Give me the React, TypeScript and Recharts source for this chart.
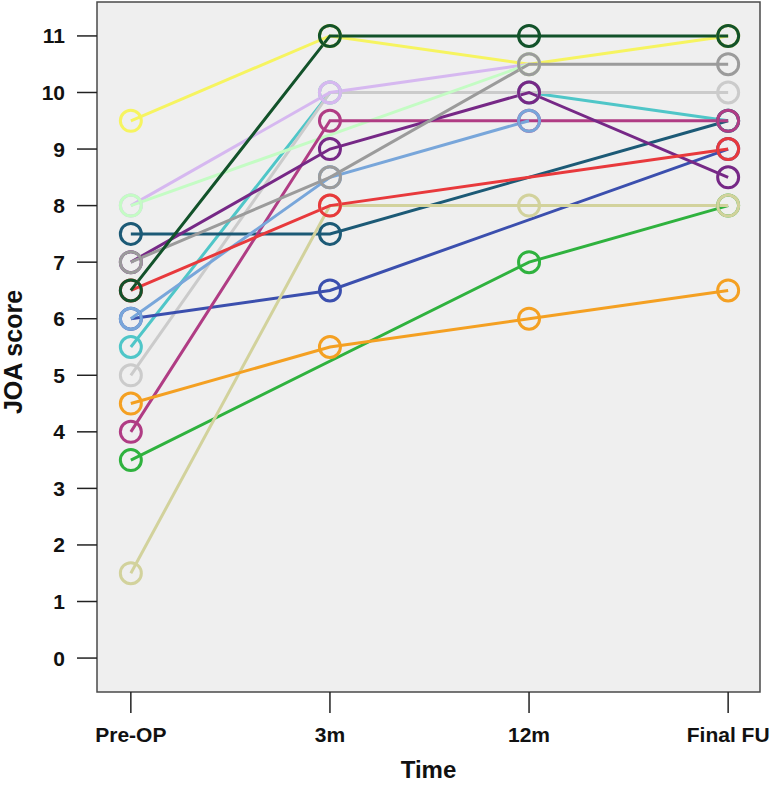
import React from "react";
import { LineChart, Line, XAxis, YAxis, ReferenceArea, Label } from "recharts";

const categories = ["Pre-OP", "3m", "12m", "Final FU"];
const yTicks = [0, 1, 2, 3, 4, 5, 6, 7, 8, 9, 10, 11];

const yellow = [9.5, 11, 10.5, 11];
const cyan = [5.5, 10, 10, 9.5];
const lightGray = [5, 10, 10, 10];
const lavender = [8, 10, 10.5, null];
const lightGreen = [8, null, 10.5, null];
const blue = [6, 6.5, null, 9];
const darkTeal = [7.5, 7.5, null, 9.5];
const magenta = [4, 9.5, 9.5, 9.5];
const lightBlue = [6, 8.5, 9.5, null];
const purple = [7, 9, 10, 8.5];
const gray = [7, 8.5, 10.5, 10.5];
const green = [3.5, null, 7, 8];
const khaki = [1.5, 8, 8, 8];
const red = [6.5, 8, null, 9];
const orange = [4.5, 5.5, 6, 6.5];
const darkGreen = [6.5, 11, 11, 11];

const series = [
  { key: "yellow", values: yellow, color: "#f6f460" },
  { key: "cyan", values: cyan, color: "#4fc6c8" },
  { key: "lightGray", values: lightGray, color: "#cbcbcb" },
  { key: "lavender", values: lavender, color: "#d6b8f0" },
  { key: "lightGreen", values: lightGreen, color: "#c4fcc4" },
  { key: "blue", values: blue, color: "#3b4fae" },
  { key: "darkTeal", values: darkTeal, color: "#1c5a76" },
  { key: "magenta", values: magenta, color: "#b03c84" },
  { key: "lightBlue", values: lightBlue, color: "#78a6da" },
  { key: "purple", values: purple, color: "#762886" },
  { key: "gray", values: gray, color: "#9b9b9b" },
  { key: "green", values: green, color: "#2fb23e" },
  { key: "khaki", values: khaki, color: "#d2d29c" },
  { key: "red", values: red, color: "#e8393c" },
  { key: "orange", values: orange, color: "#f4a022" },
  { key: "darkGreen", values: darkGreen, color: "#12522a" },
];

const data = categories.map((c, i) => {
  const row: any = { x: i, name: c };
  series.forEach((s) => {
    row[s.key] = s.values[i];
  });
  return row;
});

const FONT = "'Liberation Sans', Arial, Helvetica, sans-serif";

const XTick = (props: any) => {
  const { x, y, payload } = props;
  return (
    <text
      x={x}
      y={y + 27}
      textAnchor="middle"
      fontFamily={FONT}
      fontWeight="bold"
      fontSize={21}
      fill="#111"
    >
      {categories[payload.value]}
    </text>
  );
};

const YTick = (props: any) => {
  const { x, y, payload } = props;
  return (
    <text
      x={x - 10}
      y={y + 7.5}
      textAnchor="end"
      fontFamily={FONT}
      fontWeight="bold"
      fontSize={21}
      fill="#111"
    >
      {payload.value}
    </text>
  );
};

const TimeLabel = (props: any) => {
  const vb = props.viewBox;
  return (
    <text
      x={vb.x + vb.width / 2}
      y={vb.y + vb.height - 7}
      textAnchor="middle"
      fontFamily={FONT}
      fontWeight="bold"
      fontSize={24}
      fill="#111"
    >
      Time
    </text>
  );
};

const JoaLabel = (props: any) => {
  const vb = props.viewBox;
  const cx = vb.x + 22;
  const cy = vb.y + vb.height / 2 + 5;
  return (
    <text
      x={cx}
      y={cy}
      transform={`rotate(-90, ${cx}, ${cy})`}
      textAnchor="middle"
      fontFamily={FONT}
      fontWeight="bold"
      fontSize={25}
      fill="#111"
    >
      JOA score
    </text>
  );
};

export default function App() {
  return (
    <div style={{ width: 774, height: 785 }}>
      <style>{`body{margin:0}`}</style>
      <LineChart
        width={774}
        height={785}
        data={data}
        margin={{ top: 2, right: 14, left: 0, bottom: 0 }}
      >
        <XAxis
          dataKey="x"
          type="number"
          domain={[-0.17, 3.16]}
          ticks={[0, 1, 2, 3]}
          allowDataOverflow
          height={93}
          tickSize={21}
          axisLine={false}
          tickLine={{ stroke: "#222", strokeWidth: 1.5 }}
          tick={<XTick />}
        >
          <Label content={<TimeLabel />} />
        </XAxis>
        <YAxis
          type="number"
          domain={[-0.6, 11.6]}
          ticks={yTicks}
          allowDataOverflow
          width={97}
          tickSize={20}
          axisLine={false}
          tickLine={{ stroke: "#222", strokeWidth: 1.5 }}
          tick={<YTick />}
        >
          <Label content={<JoaLabel />} />
        </YAxis>
        <ReferenceArea
          x1={-0.17}
          x2={3.16}
          y1={-0.6}
          y2={11.6}
          fill="#efefef"
          fillOpacity={1}
          stroke="#4a4a4a"
          strokeWidth={1.5}
          ifOverflow="visible"
        />
        {series.map((s) => (
          <Line
            key={s.key}
            dataKey={s.key}
            stroke={s.color}
            strokeWidth={3}
            connectNulls
            isAnimationActive={false}
            dot={{ r: 10.5, stroke: s.color, strokeWidth: 3, fill: "none" }}
            activeDot={false}
          />
        ))}
      </LineChart>
    </div>
  );
}
